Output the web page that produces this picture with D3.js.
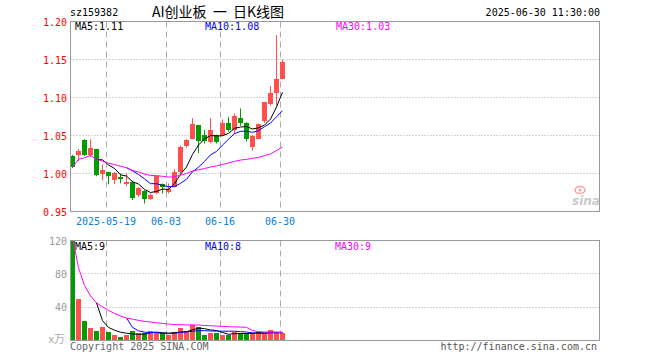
<!DOCTYPE html>
<html>
<head>
<meta charset="utf-8">
<script src="https://cdn.jsdelivr.net/npm/d3@7"></script>
<style>
  body { margin: 0; background: #fff; }
  text { font-family: "DejaVu Sans Mono", monospace; font-size: 10px; }
</style>
</head>
<body>
<div id="chart"></div>
<script>
// trading days shown (index -> date), only ticked ones get labels
var tickIdx = [6, 16, 25, 35];
var tickLabels = ["2025-05-19", "06-03", "06-16", "06-30"];

// daily K line
var opens  = [1.0228, 1.0241, 1.0438, 1.0241, 1.0320, 0.9987, 1.0017, 0.9921, 0.9955, 0.9859,
              0.9890, 0.9711, 0.9767, 0.9662, 0.9737, 0.9868, 0.9754, 0.9825, 1.0021, 1.0364,
              1.0452, 1.0632, 1.0500, 1.0417, 1.0504, 1.0504, 1.0658, 1.0570, 1.0724, 1.0658,
              1.0351, 1.0451, 1.0688, 1.0912, 1.1058, 1.1250];
var highs  = [1.0245, 1.0320, 1.0451, 1.0451, 1.0320, 1.0118, 1.0017, 1.0021, 1.0000, 1.0000,
              0.9903, 0.9820, 0.9780, 0.9737, 0.9964, 0.9868, 0.9868, 1.0057, 1.0368, 1.0452,
              1.0728, 1.0632, 1.0570, 1.0728, 1.0513, 1.0711, 1.0746, 1.0790, 1.0855, 1.0675,
              1.0504, 1.0658, 1.0938, 1.1154, 1.1820, 1.1497];
var lows   = [1.0070, 1.0162, 1.0232, 1.0219, 0.9965, 0.9912, 0.9859, 0.9859, 0.9870, 0.9833,
              0.9650, 0.9693, 0.9605, 0.9653, 0.9727, 0.9737, 0.9737, 0.9820, 0.9995, 1.0340,
              1.0452, 1.0270, 1.0395, 1.0395, 1.0395, 1.0495, 1.0550, 1.0520, 1.0627, 1.0420,
              1.0300, 1.0451, 1.0667, 1.0895, 1.0899, 1.1240];
var closes = [1.0079, 1.0297, 1.0241, 1.0337, 0.9978, 1.0043, 0.9964, 1.0008, 0.9925, 0.9890,
              0.9675, 0.9807, 0.9662, 0.9714, 0.9964, 0.9825, 0.9793, 1.0021, 1.0351, 1.0438,
              1.0649, 1.0417, 1.0417, 1.0575, 1.0417, 1.0658, 1.0570, 1.0754, 1.0658, 1.0451,
              1.0495, 1.0645, 1.0938, 1.1053, 1.1241, 1.1468];
// volume, in 万
var volumes = [124, 50.4, 24, 15.6, 12, 16.8, 10, 7.2, 3.6, 6,
               12, 8.4, 8.4, 12, 9.6, 8.4, 6, 10.8, 15.6, 12,
               19.2, 16.8, 7.2, 8.4, 8.4, 7.2, 6, 10.8, 9.6, 8.4,
               8.4, 10.8, 8.4, 13.2, 8.4, 8.4];

var priceTicks = [0.95, 1.00, 1.05, 1.10, 1.15, 1.20];
var volTicks = [40, 80, 120];
var maText = ["MA5:1.11", "MA10:1.08", "MA30:1.03"];
var volMaText = ["MA5:9", "MA10:8", "MA30:9"];
var titleParts = ["AI创业板", "一", "日K线图"];

var RED = "#ff5050", GREEN = "#009c00", GRID = "#aaa", BORDER = "#999";
var maColors = ["#000", "#0000ff", "#ff00ff"];

var W = 660, H = 360;
var left = 70, right = 600, slots = 88;

var svg = d3.select("#chart").append("svg")
    .attr("width", W).attr("height", H);
svg.append("rect").attr("width", W).attr("height", H).attr("fill", "#fff");

var x = d3.scaleBand().domain(d3.range(slots)).range([left, left + slots * 6]);
var y = d3.scaleLinear().domain([0.95, 1.20]).range([211.5, 21.5]);
var yv = d3.scaleLinear().domain([0, 120]).range([340.5, 240.5]);

var data = closes.map(function(c, i) {
    return {i: i, o: opens[i], h: highs[i], l: lows[i], c: c, v: volumes[i]};
});

// moving averages: short ones start once the window is full,
// MA30 uses whatever days exist so far
function movingAvg(vals, n, partial) {
    return vals.map(function(v, i) {
        if (i < n - 1 && !partial) return null;
        var s = vals.slice(Math.max(0, i - n + 1), i + 1);
        return d3.mean(s);
    });
}

function panel(top, bottom, yScale, hTicks, clipId) {
    svg.append("clipPath").attr("id", clipId)
        .append("rect").attr("x", left + 0.5).attr("y", top)
        .attr("width", right - left - 1).attr("height", bottom - top);

    svg.selectAll(null).data(hTicks).enter().append("line")
        .attr("x1", left + 0.5).attr("x2", right - 0.5)
        .attr("y1", function(d) { return Math.floor(yScale(d)) + 0.5; })
        .attr("y2", function(d) { return Math.floor(yScale(d)) + 0.5; })
        .attr("stroke", GRID).attr("stroke-dasharray", "1,2");

    svg.selectAll(null).data(tickIdx).enter().append("line")
        .attr("x1", function(d) { return x(d) + 0.5; })
        .attr("x2", function(d) { return x(d) + 0.5; })
        .attr("y1", top).attr("y2", bottom)
        .attr("stroke", GRID).attr("stroke-dasharray", "6,4");
}

function maLines(g, vals, yScale) {
    var specs = [[5, false], [10, false], [30, true]];
    specs.forEach(function(s, k) {
        var ma = movingAvg(vals, s[0], s[1]);
        var line = d3.line()
            .defined(function(d) { return d != null; })
            .x(function(d, i) { return x(i) + 2.5; })
            .y(function(d) { return yScale(d); });
        g.append("path").datum(ma)
            .attr("d", line)
            .attr("fill", "none")
            .attr("stroke", maColors[k])
            .attr("stroke-width", 1);
    });
}

// ---- price panel
panel(21.5, 211.5, y, [1.00, 1.05, 1.10, 1.15], "clipMain");
var gMain = svg.append("g").attr("clip-path", "url(#clipMain)");

gMain.selectAll(".wick").data(data).enter().append("line")
    .attr("x1", function(d) { return x(d.i) + 2.5; })
    .attr("x2", function(d) { return x(d.i) + 2.5; })
    .attr("y1", function(d) { return y(d.h); })
    .attr("y2", function(d) { return y(d.l); })
    .attr("stroke", function(d) { return d.c >= d.o ? RED : GREEN; });

gMain.selectAll(".body").data(data).enter().append("rect")
    .attr("x", function(d) { return x(d.i); })
    .attr("width", x.bandwidth() - 1)
    .attr("y", function(d) { return Math.round(y(Math.max(d.o, d.c))); })
    .attr("height", function(d) { return Math.max(1, Math.round(Math.abs(y(d.o) - y(d.c)))); })
    .attr("fill", function(d) { return d.c >= d.o ? RED : GREEN; })
    .attr("shape-rendering", "crispEdges");

maLines(gMain, closes, y);

svg.append("rect").attr("x", left + 0.5).attr("y", 21.5)
    .attr("width", right - left - 1).attr("height", 190)
    .attr("fill", "none").attr("stroke", BORDER);

svg.selectAll(null).data(priceTicks).enter().append("text")
    .attr("x", 67).attr("y", function(d) { return y(d) + 1; })
    .attr("text-anchor", "end").attr("dominant-baseline", "middle")
    .attr("fill", "#ff0000")
    .text(function(d) { return d.toFixed(2); });

svg.selectAll(null).data(tickIdx).enter().append("text")
    .attr("x", function(d) { return x(d); }).attr("y", 225)
    .attr("text-anchor", "middle").attr("fill", "#0a80d8")
    .text(function(d, k) { return tickLabels[k]; });

[75, 205, 336].forEach(function(px, k) {
    svg.append("text").attr("x", px).attr("y", 30)
        .attr("fill", maColors[k]).text(maText[k]);
});

// ---- volume panel
panel(240.5, 340.5, yv, [40, 80], "clipVol");
var gVol = svg.append("g").attr("clip-path", "url(#clipVol)");

gVol.selectAll(".vol").data(data).enter().append("rect")
    .attr("x", function(d) { return x(d.i); })
    .attr("width", x.bandwidth() - 1)
    .attr("y", function(d) { return Math.round(yv(d.v)); })
    .attr("height", function(d) { return 340.5 - Math.round(yv(d.v)); })
    .attr("fill", function(d) { return d.c >= d.o ? RED : GREEN; })
    .attr("shape-rendering", "crispEdges");

maLines(gVol, volumes, yv);

svg.append("rect").attr("x", left + 0.5).attr("y", 240.5)
    .attr("width", right - left - 1).attr("height", 100)
    .attr("fill", "none").attr("stroke", BORDER);

svg.selectAll(null).data(volTicks).enter().append("text")
    .attr("x", 67).attr("y", function(d) { return yv(d) + 1; })
    .attr("text-anchor", "end").attr("dominant-baseline", "middle")
    .attr("fill", "#999").text(function(d) { return d; });
svg.append("text").attr("x", 65).attr("y", 340)
    .attr("text-anchor", "end").attr("dominant-baseline", "middle")
    .attr("fill", "#aaa")
    .style("font-family", "'Noto Sans CJK SC', sans-serif").style("font-size", "11px")
    .text("x万");

[75, 205, 335].forEach(function(px, k) {
    svg.append("text").attr("x", px).attr("y", 250)
        .attr("fill", maColors[k]).text(volMaText[k]);
});

// ---- header / footer
svg.append("text").attr("x", 70).attr("y", 16).attr("fill", "#000").text("sz159382");
[152, 213, 233].forEach(function(px, k) {
    svg.append("text").attr("x", px).attr("y", 17).attr("fill", "#000")
        .style("font-family", "'Noto Sans CJK SC', sans-serif").style("font-size", "14px")
        .text(titleParts[k]);
});
svg.append("text").attr("x", 600).attr("y", 16).attr("text-anchor", "end")
    .attr("fill", "#000").text("2025-06-30 11:30:00");
svg.append("text").attr("x", 70).attr("y", 350).attr("fill", "#666")
    .text("Copyright 2025 SINA.COM");
svg.append("text").attr("x", 597).attr("y", 350).attr("text-anchor", "end")
    .attr("fill", "#555").text("http://finance.sina.com.cn");

// sina watermark
var logo = svg.append("g").attr("opacity", 0.45);
logo.append("ellipse").attr("cx", 580).attr("cy", 190).attr("rx", 5).attr("ry", 3.5)
    .attr("fill", "none").attr("stroke", "#e33").attr("stroke-width", 1.5);
logo.append("circle").attr("cx", 580).attr("cy", 190).attr("r", 1.5).attr("fill", "#e33");
logo.append("text").attr("x", 572).attr("y", 205)
    .style("font-family", "'DejaVu Sans', sans-serif").style("font-size", "12px")
    .style("font-style", "italic").style("font-weight", "bold")
    .attr("fill", "#888").text("sina");
</script>
</body>
</html>
